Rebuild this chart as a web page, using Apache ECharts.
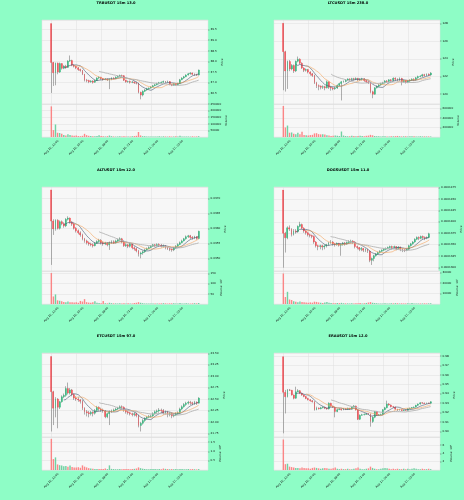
<!DOCTYPE html>
<html>
<head>
<meta charset="utf-8">
<script src="https://cdn.jsdelivr.net/npm/echarts@6.0.0/dist/echarts.min.js"></script>
<style>
html, body { margin: 0; padding: 0; background: #8efdc6; }
#container { width: 464px; height: 500px; }
</style>
</head>
<body>
<div id="container"></div>
<script>
// x 轴刻度 (每 12 根 15m 蜡烛一个)
var tickLabels = ['Aug 16, 12:00', 'Aug 16, 15:00', 'Aug 16, 18:00', 'Aug 16, 21:00', 'Aug 17, 00:00', 'Aug 17, 03:00']
var tickPos = [0, 12, 24, 36, 48, 60]
var mavPeriods = [7, 12, 24]

// TRBUSDT
var trbOpen0 = 39.78
var trbClose = [
    37.95, 37.47, 37.92, 37.50, 37.90, 37.68, 37.78, 37.72, 38.02, 38.05, 37.82, 37.78,
    37.70, 37.62, 37.58, 37.40, 37.12, 37.10, 37.05, 37.08, 37.02, 37.10, 37.22, 37.26,
    37.20, 37.15, 37.18, 37.14, 37.16, 37.22, 37.20, 37.26, 37.30, 37.34, 37.33, 37.12,
    37.05, 37.06, 37.02, 37.04, 37.00, 36.98, 36.55, 36.42, 36.60, 36.66, 36.72, 36.75,
    36.80, 36.86, 36.90, 36.96, 37.00, 37.02, 37.06, 37.04, 37.06, 36.92, 36.88, 36.94,
    36.90, 36.96, 37.14, 37.22, 37.28, 37.36, 37.42, 37.46, 37.40, 37.38, 37.36, 37.60]
var trbHigh = [
    39.78, 37.98, 37.95, 37.95, 37.95, 37.92, 37.82, 37.84, 38.06, 38.28, 38.08, 37.86,
    37.80, 37.74, 37.66, 37.60, 37.42, 37.18, 37.14, 37.12, 37.12, 37.14, 37.26, 37.30,
    37.28, 37.22, 37.22, 37.20, 37.20, 37.26, 37.26, 37.30, 37.34, 37.38, 37.38, 37.36,
    37.14, 37.10, 37.10, 37.08, 37.06, 37.04, 37.00, 36.58, 36.64, 36.70, 36.76, 36.78,
    36.84, 36.90, 36.94, 37.00, 37.04, 37.06, 37.10, 37.08, 37.10, 37.08, 36.94, 36.98,
    36.96, 37.00, 37.18, 37.26, 37.32, 37.40, 37.46, 37.50, 37.48, 37.44, 37.42, 37.62]
var trbLow = [
    36.52, 36.85, 36.88, 37.40, 37.46, 37.62, 37.64, 37.66, 37.70, 37.98, 37.78, 37.72,
    37.64, 37.56, 37.52, 37.36, 37.06, 37.02, 36.98, 37.00, 36.96, 37.00, 37.08, 37.18,
    37.14, 37.10, 37.12, 37.08, 36.70, 37.12, 37.16, 37.18, 37.24, 37.28, 37.28, 37.08,
    37.00, 37.00, 36.96, 36.98, 36.94, 36.92, 36.50, 36.22, 36.36, 36.56, 36.62, 36.68,
    36.72, 36.78, 36.84, 36.88, 36.92, 36.96, 37.00, 36.98, 37.00, 36.88, 36.84, 36.86,
    36.86, 36.88, 36.94, 37.12, 37.18, 37.26, 37.34, 37.38, 37.36, 37.32, 37.32, 37.34]
var trbVol = [
    232000, 52000, 95000, 32000, 30000, 24000, 16000, 11000, 20000, 15000, 12000, 9000,
    11000, 7000, 6000, 9000, 24000, 14000, 9000, 7000, 6000, 5000, 7000, 13000,
    8000, 5000, 4000, 6000, 11000, 6000, 4000, 3000, 4000, 5000, 3000, 6000,
    4000, 4000, 3000, 5000, 7000, 9000, 38000, 12000, 6000, 5000, 4000, 3000,
    3000, 4000, 3000, 4000, 5000, 3000, 5000, 4000, 3000, 5000, 3000, 4000,
    6000, 3000, 9000, 4000, 3000, 3000, 4000, 3000, 5000, 3000, 4000, 6000]

// LTCUSDT
var ltcOpen0 = 128.0
var ltcClose = [
    124.80, 122.62, 123.70, 122.85, 123.25, 122.62, 123.72, 123.95, 123.50, 122.95, 122.70, 122.78,
    122.50, 122.30, 122.12, 121.30, 120.95, 120.90, 120.80, 120.85, 120.72, 121.40, 120.78, 120.70,
    120.62, 120.70, 121.00, 121.20, 121.40, 121.45, 121.60, 121.72, 121.65, 121.75, 121.70, 121.78,
    121.62, 121.70, 121.75, 121.55, 121.40, 121.30, 120.28, 120.00, 120.72, 120.90, 121.05, 121.20,
    121.28, 121.50, 121.45, 121.62, 121.55, 121.80, 121.70, 121.60, 121.78, 121.40, 121.55, 121.35,
    121.50, 121.60, 121.70, 121.62, 121.85, 122.00, 122.05, 122.20, 122.12, 122.25, 122.18, 122.40]
var ltcHigh = [
    128.00, 124.90, 123.80, 123.85, 123.40, 123.35, 123.80, 124.25, 124.05, 123.60, 123.05, 122.90,
    122.85, 122.60, 122.40, 122.20, 121.40, 121.10, 121.00, 121.00, 120.95, 121.55, 121.45, 120.90,
    120.80, 120.85, 121.10, 121.30, 121.50, 121.55, 121.70, 121.80, 121.80, 121.85, 121.85, 121.90,
    121.85, 121.80, 121.85, 121.80, 121.60, 121.50, 121.35, 120.40, 120.80, 121.00, 121.15, 121.30,
    121.40, 121.60, 121.60, 121.70, 121.70, 121.90, 121.90, 121.80, 121.90, 121.85, 121.65, 121.60,
    121.60, 121.70, 121.80, 121.80, 121.95, 122.10, 122.15, 122.30, 122.30, 122.35, 122.35, 122.50]
var ltcLow = [
    120.45, 120.30, 120.60, 122.60, 122.70, 122.40, 122.50, 123.60, 123.40, 122.85, 122.50, 122.55,
    122.35, 122.10, 121.95, 121.15, 120.70, 120.45, 120.55, 120.60, 120.45, 120.65, 120.60, 120.40,
    120.45, 120.50, 120.60, 120.90, 119.30, 121.30, 121.35, 121.50, 121.50, 121.55, 121.55, 121.60,
    121.50, 121.50, 121.55, 121.40, 121.25, 121.15, 120.10, 119.55, 119.95, 120.65, 120.80, 120.95,
    121.10, 121.20, 121.30, 121.35, 121.40, 121.45, 121.50, 121.45, 121.50, 121.00, 121.30, 121.20,
    121.25, 121.35, 121.50, 121.50, 121.55, 121.75, 121.90, 121.95, 122.00, 122.05, 122.05, 122.10]
var ltcVol = [
    650000, 200000, 240000, 90000, 95000, 70000, 60000, 90000, 60000, 110000, 40000, 35000,
    30000, 40000, 45000, 75000, 80000, 60000, 55000, 60000, 50000, 35000, 30000, 20000,
    25000, 30000, 25000, 20000, 115000, 30000, 20000, 15000, 18000, 25000, 22000, 18000,
    20000, 25000, 22000, 18000, 25000, 30000, 45000, 35000, 20000, 18000, 15000, 12000,
    14000, 15000, 12000, 13000, 15000, 14000, 18000, 22000, 15000, 12000, 14000, 16000,
    13000, 15000, 18000, 14000, 12000, 13000, 15000, 12000, 13000, 11000, 12000, 10000]

// ALTUSDT
var altOpen0 = 0.03728
var altClose = [
    0.03624, 0.03598, 0.03627, 0.03600, 0.03622, 0.03615, 0.03608, 0.03630, 0.03634, 0.03620, 0.03614, 0.03600,
    0.03592, 0.03585, 0.03578, 0.03565, 0.03558, 0.03552, 0.03548, 0.03545, 0.03542, 0.03550, 0.03556, 0.03560,
    0.03552, 0.03548, 0.03550, 0.03545, 0.03552, 0.03555, 0.03552, 0.03558, 0.03562, 0.03565, 0.03555, 0.03542,
    0.03545, 0.03540, 0.03548, 0.03535, 0.03532, 0.03525, 0.03514, 0.03518, 0.03522, 0.03528, 0.03532, 0.03536,
    0.03540, 0.03545, 0.03542, 0.03546, 0.03544, 0.03540, 0.03542, 0.03536, 0.03532, 0.03530, 0.03528, 0.03535,
    0.03540, 0.03546, 0.03552, 0.03558, 0.03565, 0.03572, 0.03575, 0.03570, 0.03568, 0.03572, 0.03566, 0.03590]
var altHigh = [
    0.03728, 0.03630, 0.03630, 0.03630, 0.03626, 0.03626, 0.03620, 0.03634, 0.03640, 0.03636, 0.03624, 0.03618,
    0.03604, 0.03596, 0.03590, 0.03582, 0.03568, 0.03562, 0.03556, 0.03552, 0.03550, 0.03554, 0.03560, 0.03565,
    0.03564, 0.03556, 0.03555, 0.03554, 0.03556, 0.03560, 0.03560, 0.03562, 0.03566, 0.03570, 0.03568, 0.03560,
    0.03550, 0.03548, 0.03552, 0.03550, 0.03540, 0.03536, 0.03528, 0.03522, 0.03526, 0.03532, 0.03536, 0.03540,
    0.03544, 0.03548, 0.03548, 0.03550, 0.03550, 0.03548, 0.03546, 0.03544, 0.03538, 0.03535, 0.03533, 0.03538,
    0.03544, 0.03550, 0.03556, 0.03562, 0.03568, 0.03576, 0.03578, 0.03578, 0.03574, 0.03575, 0.03574, 0.03592]
var altLow = [
    0.03478, 0.03578, 0.03592, 0.03596, 0.03596, 0.03610, 0.03602, 0.03604, 0.03626, 0.03616, 0.03608, 0.03596,
    0.03586, 0.03580, 0.03572, 0.03560, 0.03552, 0.03546, 0.03542, 0.03540, 0.03536, 0.03540, 0.03548, 0.03552,
    0.03546, 0.03542, 0.03544, 0.03540, 0.03528, 0.03548, 0.03548, 0.03550, 0.03554, 0.03558, 0.03550, 0.03538,
    0.03538, 0.03534, 0.03536, 0.03530, 0.03526, 0.03520, 0.03506, 0.03500, 0.03512, 0.03518, 0.03526, 0.03530,
    0.03534, 0.03538, 0.03538, 0.03540, 0.03538, 0.03536, 0.03536, 0.03530, 0.03528, 0.03524, 0.03522, 0.03524,
    0.03532, 0.03538, 0.03544, 0.03550, 0.03556, 0.03562, 0.03568, 0.03564, 0.03562, 0.03564, 0.03562, 0.03564]
var altVol = [
    152, 37, 47, 18, 16, 14, 10, 8, 12, 9, 8, 7,
    8, 6, 15, 12, 24, 9, 7, 6, 8, 14, 6, 5,
    4, 15, 4, 3, 6, 4, 3, 3, 3, 4, 3, 4,
    3, 4, 3, 3, 5, 6, 9, 6, 4, 3, 3, 2,
    3, 3, 2, 3, 3, 3, 4, 3, 2, 3, 3, 4,
    3, 3, 5, 3, 3, 4, 3, 2, 3, 4, 3, 5]

// DOGSUSDT
var dogsOpen0 = 0.0001469
var dogsClose = [
    0.0001375, 0.0001365, 0.0001387, 0.0001384, 0.0001372, 0.0001380, 0.0001378, 0.0001390, 0.0001394, 0.0001386, 0.0001380, 0.0001376,
    0.0001372, 0.0001370, 0.0001368, 0.0001356, 0.0001348, 0.0001346, 0.0001348, 0.0001345, 0.0001347, 0.0001350, 0.0001354, 0.0001356,
    0.0001352, 0.0001350, 0.0001353, 0.0001349, 0.0001351, 0.0001354, 0.0001352, 0.0001355, 0.0001357, 0.0001358, 0.0001356, 0.0001346,
    0.0001344, 0.0001340, 0.0001342, 0.0001338, 0.0001340, 0.0001336, 0.0001316, 0.0001320, 0.0001326, 0.0001330, 0.0001333, 0.0001336,
    0.0001338, 0.0001340, 0.0001342, 0.0001344, 0.0001346, 0.0001344, 0.0001346, 0.0001342, 0.0001345, 0.0001341, 0.0001339, 0.0001338,
    0.0001340, 0.0001348, 0.0001352, 0.0001356, 0.0001362, 0.0001366, 0.0001364, 0.0001368, 0.0001366, 0.0001364, 0.0001366, 0.0001374]
var dogsHigh = [
    0.0001469, 0.0001378, 0.0001390, 0.0001392, 0.0001386, 0.0001384, 0.0001384, 0.0001392, 0.0001400, 0.0001396, 0.0001388, 0.0001382,
    0.0001378, 0.0001374, 0.0001372, 0.0001370, 0.0001358, 0.0001350, 0.0001350, 0.0001350, 0.0001350, 0.0001352, 0.0001356, 0.0001360,
    0.0001358, 0.0001354, 0.0001355, 0.0001354, 0.0001353, 0.0001356, 0.0001356, 0.0001357, 0.0001360, 0.0001361, 0.0001360, 0.0001358,
    0.0001348, 0.0001345, 0.0001345, 0.0001343, 0.0001342, 0.0001341, 0.0001338, 0.0001322, 0.0001328, 0.0001332, 0.0001335, 0.0001338,
    0.0001340, 0.0001342, 0.0001344, 0.0001346, 0.0001348, 0.0001348, 0.0001348, 0.0001347, 0.0001347, 0.0001346, 0.0001342, 0.0001340,
    0.0001342, 0.0001350, 0.0001354, 0.0001358, 0.0001364, 0.0001368, 0.0001368, 0.0001370, 0.0001370, 0.0001368, 0.0001368, 0.0001376]
var dogsLow = [
    0.0001300, 0.0001333, 0.0001362, 0.0001380, 0.0001368, 0.0001370, 0.0001374, 0.0001376, 0.0001388, 0.0001384, 0.0001376, 0.0001372,
    0.0001368, 0.0001366, 0.0001364, 0.0001352, 0.0001344, 0.0001338, 0.0001340, 0.0001338, 0.0001340, 0.0001344, 0.0001348, 0.0001352,
    0.0001348, 0.0001346, 0.0001348, 0.0001346, 0.0001326, 0.0001348, 0.0001348, 0.0001350, 0.0001352, 0.0001354, 0.0001352, 0.0001342,
    0.0001340, 0.0001336, 0.0001336, 0.0001334, 0.0001334, 0.0001332, 0.0001312, 0.0001306, 0.0001314, 0.0001324, 0.0001328, 0.0001331,
    0.0001334, 0.0001336, 0.0001338, 0.0001340, 0.0001342, 0.0001340, 0.0001342, 0.0001338, 0.0001340, 0.0001336, 0.0001334, 0.0001334,
    0.0001336, 0.0001338, 0.0001346, 0.0001350, 0.0001354, 0.0001360, 0.0001360, 0.0001362, 0.0001362, 0.0001360, 0.0001362, 0.0001364]
var dogsVol = [
    29300, 6700, 11700, 4300, 3800, 2600, 2200, 1800, 2400, 2000, 1600, 1400,
    1200, 1500, 1300, 2200, 2000, 1500, 1200, 1000, 1400, 2000, 1200, 900,
    800, 700, 900, 800, 1100, 700, 600, 600, 500, 700, 600, 800,
    700, 900, 600, 700, 1000, 1400, 1800, 1200, 900, 700, 600, 500,
    600, 700, 500, 600, 700, 600, 800, 700, 500, 600, 500, 600,
    700, 500, 900, 600, 500, 500, 600, 500, 600, 500, 600, 700]

// ETCUSDT
var etcOpen0 = 23.43
var etcClose = [
    22.66, 22.30, 22.50, 22.32, 22.44, 22.55, 22.58, 22.73, 22.63, 22.70, 22.60, 22.52,
    22.50, 22.48, 22.45, 22.30, 22.22, 22.20, 22.18, 22.21, 22.19, 22.25, 22.32, 22.28,
    22.26, 22.24, 22.11, 22.18, 22.22, 22.24, 22.26, 22.28, 22.30, 22.33, 22.32, 22.26,
    22.22, 22.20, 22.18, 22.16, 22.18, 22.14, 21.92, 21.97, 22.03, 22.08, 22.10, 22.12,
    22.13, 22.18, 22.22, 22.24, 22.26, 22.25, 22.20, 22.22, 22.16, 22.18, 22.13, 22.15,
    22.18, 22.20, 22.28, 22.33, 22.38, 22.41, 22.43, 22.42, 22.40, 22.43, 22.41, 22.52]
var etcHigh = [
    23.43, 22.68, 22.54, 22.52, 22.46, 22.58, 22.62, 22.78, 22.86, 22.74, 22.72, 22.62,
    22.56, 22.54, 22.50, 22.48, 22.32, 22.26, 22.24, 22.24, 22.23, 22.28, 22.35, 22.34,
    22.31, 22.29, 22.26, 22.20, 22.25, 22.27, 22.29, 22.31, 22.33, 22.36, 22.36, 22.34,
    22.28, 22.24, 22.22, 22.20, 22.21, 22.20, 22.16, 22.00, 22.06, 22.10, 22.13, 22.15,
    22.16, 22.21, 22.25, 22.27, 22.30, 22.29, 22.28, 22.25, 22.24, 22.21, 22.20, 22.18,
    22.21, 22.23, 22.31, 22.36, 22.41, 22.44, 22.46, 22.46, 22.44, 22.46, 22.45, 22.54]
var etcLow = [
    21.79, 21.93, 22.10, 21.86, 22.28, 22.42, 22.52, 22.55, 22.60, 22.60, 22.56, 22.48,
    22.46, 22.44, 22.40, 22.26, 22.16, 22.12, 22.10, 22.14, 22.12, 22.16, 22.22, 22.24,
    22.22, 22.20, 22.08, 22.08, 21.93, 22.20, 22.22, 22.24, 22.26, 22.28, 22.28, 22.22,
    22.18, 22.16, 22.14, 22.12, 22.12, 22.10, 21.88, 21.79, 21.94, 22.00, 22.05, 22.08,
    22.09, 22.11, 22.16, 22.18, 22.20, 22.20, 22.16, 22.16, 22.10, 22.12, 22.08, 22.10,
    22.13, 22.16, 22.18, 22.26, 22.31, 22.35, 22.38, 22.37, 22.36, 22.37, 22.37, 22.40]
var etcVol = [
    1.68, 0.59, 0.68, 0.30, 0.26, 0.24, 0.20, 0.22, 0.18, 0.24, 0.16, 0.14,
    0.13, 0.15, 0.12, 0.25, 0.18, 0.14, 0.10, 0.08, 0.07, 0.06, 0.05, 0.06,
    0.05, 0.06, 0.08, 0.05, 0.25, 0.06, 0.05, 0.04, 0.04, 0.05, 0.04, 0.05,
    0.06, 0.05, 0.04, 0.05, 0.06, 0.08, 0.14, 0.10, 0.07, 0.05, 0.04, 0.04,
    0.05, 0.06, 0.05, 0.04, 0.05, 0.04, 0.08, 0.06, 0.05, 0.04, 0.05, 0.04,
    0.05, 0.04, 0.06, 0.05, 0.04, 0.04, 0.05, 0.04, 0.05, 0.04, 0.03, 0.05]

// ERAUSDT
var eraOpen0 = 0.9793
var eraClose = [
    0.9414, 0.9368, 0.9440, 0.9436, 0.9386, 0.9352, 0.9420, 0.9432, 0.9404, 0.9386, 0.9370, 0.9350,
    0.9336, 0.9325, 0.9315, 0.9230, 0.9248, 0.9240, 0.9250, 0.9256, 0.9246, 0.9238, 0.9298, 0.9268,
    0.9256, 0.9210, 0.9230, 0.9236, 0.9228, 0.9240, 0.9234, 0.9244, 0.9236, 0.9258, 0.9270, 0.9228,
    0.9128, 0.9170, 0.9176, 0.9180, 0.9186, 0.9184, 0.9104, 0.9150, 0.9210, 0.9170, 0.9176, 0.9180,
    0.9230, 0.9250, 0.9290, 0.9280, 0.9262, 0.9258, 0.9236, 0.9226, 0.9230, 0.9222, 0.9226, 0.9224,
    0.9240, 0.9246, 0.9252, 0.9258, 0.9276, 0.9290, 0.9304, 0.9300, 0.9296, 0.9300, 0.9298, 0.9315]
var eraHigh = [
    0.9793, 0.9440, 0.9450, 0.9450, 0.9440, 0.9392, 0.9474, 0.9448, 0.9438, 0.9410, 0.9392, 0.9376,
    0.9356, 0.9342, 0.9332, 0.9320, 0.9262, 0.9254, 0.9260, 0.9266, 0.9262, 0.9252, 0.9308, 0.9304,
    0.9274, 0.9262, 0.9240, 0.9246, 0.9242, 0.9248, 0.9246, 0.9252, 0.9250, 0.9264, 0.9280, 0.9274,
    0.9232, 0.9180, 0.9186, 0.9190, 0.9196, 0.9194, 0.9190, 0.9160, 0.9216, 0.9212, 0.9184, 0.9188,
    0.9236, 0.9260, 0.9326, 0.9300, 0.9286, 0.9270, 0.9262, 0.9240, 0.9240, 0.9234, 0.9232, 0.9232,
    0.9246, 0.9252, 0.9258, 0.9264, 0.9282, 0.9296, 0.9310, 0.9310, 0.9306, 0.9306, 0.9306, 0.9320]
var eraLow = [
    0.8979, 0.9190, 0.9360, 0.9428, 0.9380, 0.9340, 0.9346, 0.9416, 0.9396, 0.9378, 0.9362, 0.9342,
    0.9328, 0.9316, 0.9306, 0.9220, 0.9224, 0.9232, 0.9234, 0.9244, 0.9236, 0.9230, 0.9232, 0.9260,
    0.9250, 0.9149, 0.9204, 0.9226, 0.9220, 0.9224, 0.9226, 0.9230, 0.9228, 0.9232, 0.9252, 0.9220,
    0.9120, 0.9120, 0.9166, 0.9170, 0.9176, 0.9176, 0.9050, 0.9090, 0.9140, 0.9164, 0.9166, 0.9172,
    0.9174, 0.9224, 0.9244, 0.9272, 0.9254, 0.9248, 0.9230, 0.9216, 0.9220, 0.9214, 0.9216, 0.9216,
    0.9220, 0.9236, 0.9242, 0.9248, 0.9252, 0.9270, 0.9284, 0.9292, 0.9290, 0.9292, 0.9292, 0.9294]
var eraVol = [
    7.3, 1.4, 1.5, 0.8, 0.7, 0.6, 0.5, 0.5, 0.4, 0.6, 0.5, 0.4,
    0.4, 0.3, 0.5, 0.6, 0.5, 0.4, 0.3, 0.4, 0.5, 0.4, 0.3, 0.3,
    0.4, 0.6, 0.3, 0.2, 0.3, 0.2, 0.2, 0.3, 0.2, 0.2, 0.3, 0.4,
    0.6, 0.3, 0.2, 0.2, 0.3, 0.4, 0.8, 0.5, 0.3, 0.2, 0.2, 0.3,
    0.4, 0.5, 0.4, 0.3, 0.2, 0.3, 0.2, 0.3, 0.2, 0.2, 0.3, 0.2,
    0.3, 0.2, 0.3, 0.4, 0.3, 0.2, 0.2, 0.3, 0.2, 0.2, 0.3, 0.2]

var panels = [
    { title: 'TRBUSDT 15m 13.0', open0: trbOpen0, close: trbClose, high: trbHigh, low: trbLow, vol: trbVol },
    { title: 'LTCUSDT 15m 238.0', open0: ltcOpen0, close: ltcClose, high: ltcHigh, low: ltcLow, vol: ltcVol },
    { title: 'ALTUSDT 15m 12.0', open0: altOpen0, close: altClose, high: altHigh, low: altLow, vol: altVol },
    { title: 'DOGSUSDT 15m 11.0', open0: dogsOpen0, close: dogsClose, high: dogsHigh, low: dogsLow, vol: dogsVol },
    { title: 'ETCUSDT 15m 97.0', open0: etcOpen0, close: etcClose, high: etcHigh, low: etcLow, vol: etcVol },
    { title: 'ERAUSDT 15m 12.0', open0: eraOpen0, close: eraClose, high: eraHigh, low: eraLow, vol: eraVol },
]

// 轴的范围和标签样式 (每个小图一份)
var axisSetup = [
    { yMin: 36.0, yMax: 39.95, step: 0.5, digits: 1, gap: 10, vMax: 250000, vStep: 50000, vDigits: 0, vName: 'Volume', vGap: 15, vTop: true },
    { yMin: 118.9, yMax: 128.37, step: 2, digits: 0, gap: 11, vMax: 692000, vStep: 200000, vDigits: 0, vName: 'Volume', vGap: 15, vTop: false },
    { yMin: 0.034577, yMax: 0.037377, step: 0.0005, digits: 4, gap: 14, vMax: 162, vStep: 50, vDigits: 0, vName: 'Volume  10⁵', vGap: 10, vTop: false },
    { yMin: 0.00012928, yMax: 0.00014757, step: 0.0000025, digits: 7, gap: 19, vMax: 31700, vStep: 10000, vDigits: 0, vName: 'Volume  10⁵', vGap: 15, vTop: false },
    { yMin: 21.669, yMax: 23.507, step: 0.25, digits: 2, gap: 12, vMax: 1.78, vStep: 0.5, vDigits: 1, vName: 'Volume  10⁶', vGap: 10, vTop: false },
    { yMin: 0.894, yMax: 0.9832, step: 0.01, digits: 2, gap: 11, vMax: 7.9, vStep: 2, vDigits: 0, vName: 'Volume  10⁶', vGap: 10, vTop: false },
]

var BG = '#8efdc6'
var FACE = '#f7f7f7'
var GRID = '#dedede'
var UP = '#1cb874'
var DOWN = '#fb3c45'
var VUP = '#5fcd98'
var VDOWN = '#fd7a7b'
var WICK = '#7a7a7a'
var MAV_COLORS = ['#44566e', '#f4a35a', '#b4b4b4']
var MAV_WIDTH = [0.6, 0.6, 0.9]
var FONT = 'DejaVu Sans'

var PAD = 4       // 左右留空的蜡烛位
var SLOTS = 80

var cats = []
for (let i = 0; i < SLOTS; i++) {
    cats.push(String(i - PAD))
}

var isTick = function (index) {
    return tickPos.indexOf(index - PAD) >= 0
}

var sma = function (close, n) {
    var out = []
    for (let i = 0; i < close.length; i++) {
        if (i < n - 1) {
            out.push('-')
            continue
        }
        var s = 0
        for (let j = i - n + 1; j <= i; j++) {
            s += close[j]
        }
        out.push(s / n)
    }
    return out
}

var padFront = function (arr) {
    var out = []
    for (let i = 0; i < PAD; i++) {
        out.push(arr.length && Array.isArray(arr[0]) ? ['-', '-', '-', '-'] : '-')
    }
    return out.concat(arr)
}

const chartInit = function () {
    var dom = document.getElementById('container')
    var myChart = echarts.init(dom, null, { renderer: 'canvas' })

    var option = {
        backgroundColor: BG,
        animation: false,
        textStyle: { fontFamily: FONT },
        title: [],
        grid: [],
        xAxis: [],
        yAxis: [],
        series: [],
    }

    var rowTop = [20, 187, 353]
    var titleTop = [1, 168, 334]

    panels.forEach(function (p, k) {
        var a = axisSetup[k]
        var col = k % 2
        var row = Math.floor(k / 2)
        var left = 42 + 232 * col
        var top = rowTop[row]
        var gp = option.grid.length

        // 蜡烛数据: open 取上一根的 close
        var ohlc = []
        var body = []
        var vols = []
        for (let i = 0; i < p.close.length; i++) {
            var o = i === 0 ? p.open0 : p.close[i - 1]
            var c = p.close[i]
            var h = Math.max(p.high[i], o, c)
            var l = Math.min(p.low[i], o, c)
            ohlc.push([o, c, l, h])
            body.push([o, c, Math.min(o, c), Math.max(o, c)])
            vols.push({ value: p.vol[i], itemStyle: { color: c >= o ? VUP : VDOWN, opacity: 0.9 } })
        }

        option.title.push({
            text: p.title,
            left: 116 + 232 * col,
            top: titleTop[row],
            textAlign: 'center',
            padding: 0,
            textStyle: { fontSize: 3.6, fontWeight: 'bold', color: '#000', fontFamily: FONT },
        })

        option.grid.push({
            left: left, top: top, width: 166, height: 84,
            show: true, backgroundColor: FACE, borderColor: '#e2e2e2', borderWidth: 0.5,
        })
        option.grid.push({
            left: left, top: top + 84, width: 166, height: 33,
            show: true, backgroundColor: FACE, borderColor: '#e2e2e2', borderWidth: 0.5,
        })

        var splitX = { show: true, alignWithLabel: true, interval: isTick, lineStyle: { color: GRID, width: 0.5 } }

        option.xAxis.push({
            type: 'category', gridIndex: gp, data: cats, boundaryGap: true,
            axisLine: { show: false }, axisTick: { show: false }, axisLabel: { show: false },
            splitLine: splitX,
        })
        option.xAxis.push({
            type: 'category', gridIndex: gp + 1, data: cats, boundaryGap: true,
            axisLine: { show: false }, axisTick: { show: false },
            axisLabel: {
                show: true, interval: isTick, rotate: 45, align: 'center', verticalAlign: 'middle',
                margin: 10.5, fontSize: 2.8, color: '#101010', fontFamily: FONT,
                formatter: function (v) {
                    var n = tickPos.indexOf(Number(v))
                    return n >= 0 ? tickLabels[n] : ''
                },
            },
            splitLine: splitX,
        })

        option.yAxis.push({
            type: 'value', gridIndex: gp, position: 'right', scale: true,
            min: a.yMin, max: a.yMax, minInterval: a.step, maxInterval: a.step,
            axisLine: { show: false },
            axisTick: { show: true, length: 1.5, lineStyle: { color: '#333', width: 0.4 } },
            axisLabel: {
                fontSize: 2.8, color: '#101010', margin: 2.5, fontFamily: FONT,
                showMinLabel: false, showMaxLabel: false,
                formatter: function (v) { return v.toFixed(a.digits) },
            },
            splitLine: { show: true, lineStyle: { color: GRID, width: 0.5 } },
            name: 'Price', nameLocation: 'middle', nameRotate: 90, nameGap: a.gap,
            nameTextStyle: { fontSize: 2.8, color: '#101010', fontFamily: FONT },
        })
        option.yAxis.push({
            type: 'value', gridIndex: gp + 1, position: 'right',
            min: 0, max: a.vMax, interval: a.vStep,
            axisLine: { show: false },
            axisTick: { show: true, length: 1.5, lineStyle: { color: '#333', width: 0.4 } },
            axisLabel: {
                fontSize: 2.8, color: '#101010', margin: 2.5, fontFamily: FONT,
                showMinLabel: false, showMaxLabel: a.vTop,
                formatter: function (v) { return v.toFixed(a.vDigits) },
            },
            splitLine: { show: true, lineStyle: { color: GRID, width: 0.5 } },
            name: a.vName, nameLocation: 'middle', nameRotate: 90, nameGap: a.vGap,
            nameTextStyle: { fontSize: 2.8, color: '#101010', fontFamily: FONT },
        })

        // 影线 (灰色), 再盖上彩色实体
        option.series.push({
            type: 'candlestick', xAxisIndex: gp, yAxisIndex: gp,
            data: padFront(ohlc), barWidth: 0.6, silent: true,
            itemStyle: { color: WICK, color0: WICK, borderColor: WICK, borderColor0: WICK, borderColorDoji: WICK, borderWidth: 0.6 },
        })
        option.series.push({
            type: 'candlestick', xAxisIndex: gp, yAxisIndex: gp,
            data: padFront(body), barWidth: '68%', silent: true,
            itemStyle: { color: UP, color0: DOWN, borderColor: UP, borderColor0: DOWN, borderColorDoji: UP, borderWidth: 0.3 },
        })
        mavPeriods.forEach(function (n, m) {
            option.series.push({
                type: 'line', xAxisIndex: gp, yAxisIndex: gp,
                data: padFront(sma(p.close, n)), showSymbol: false, silent: true,
                lineStyle: { color: MAV_COLORS[m], width: MAV_WIDTH[m] },
            })
        })
        option.series.push({
            type: 'bar', xAxisIndex: gp + 1, yAxisIndex: gp + 1,
            data: padFront(vols), barWidth: '68%', silent: true,
        })
    })

    myChart.setOption(option, true)
}

chartInit()
</script>
</body>
</html>
